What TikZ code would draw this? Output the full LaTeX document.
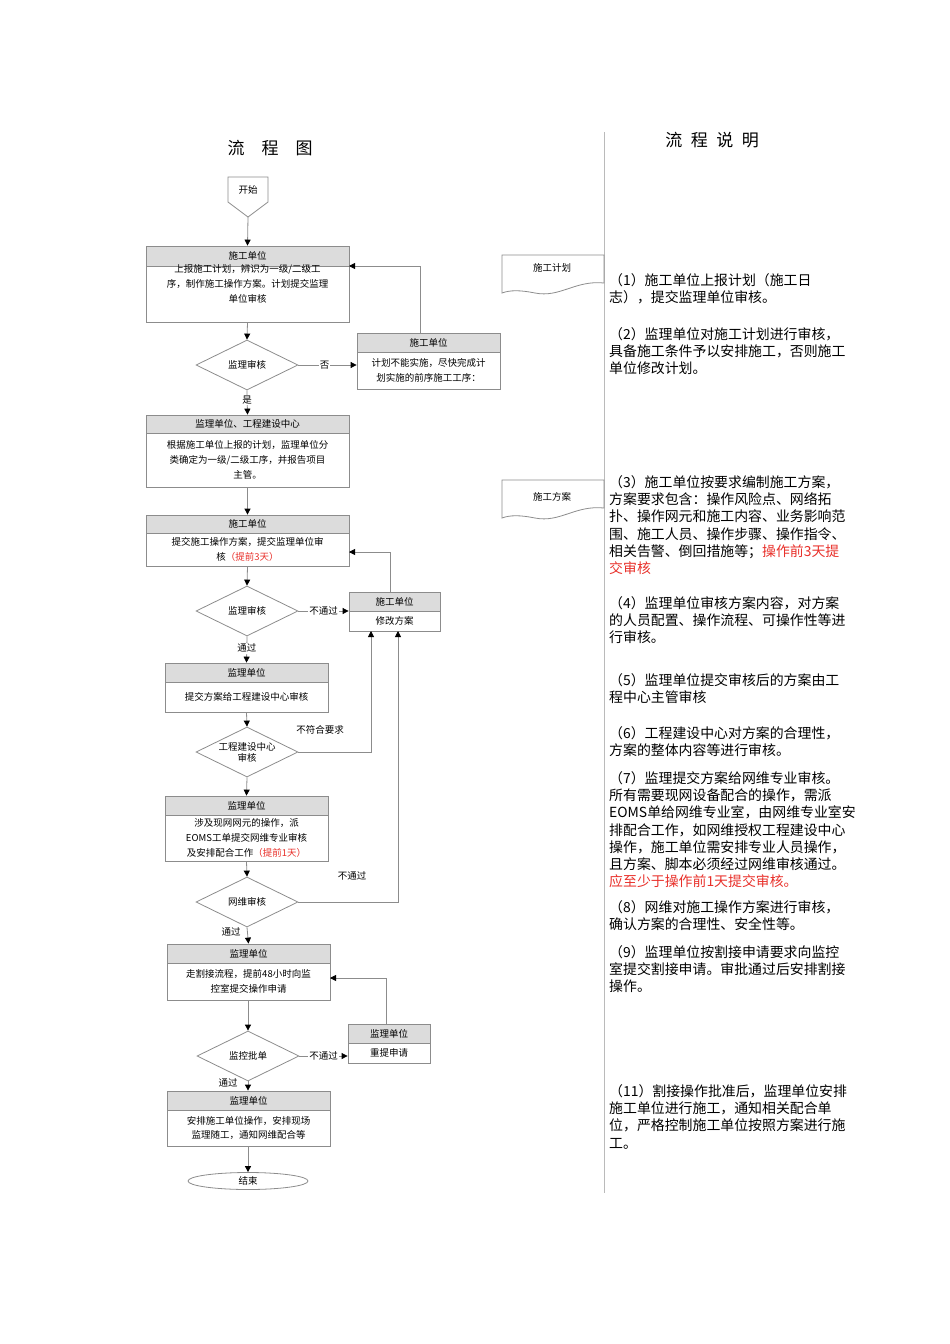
\documentclass[tikz,border=0pt]{standalone}
\usepackage{fontspec}
\setmainfont{Noto Sans CJK SC}
\usetikzlibrary{shapes.geometric,arrows.meta}
\definecolor{lnc}{HTML}{8C8C8C}
\definecolor{hdrc}{HTML}{DCDCDC}
\definecolor{redt}{HTML}{E8302A}
\tikzset{
 ln/.style={draw=lnc,line width=0.8pt},
 arr/.style={ln,-{Triangle[length=6pt,width=6pt,color=black]}},
 lab/.style={font=\fontsize{9.5}{10}\selectfont,fill=white,inner sep=1pt},
 dia/.style={diamond,ln,inner sep=0pt,minimum width=102pt,minimum height=50pt},
 diat/.style={font=\fontsize{9.5}{11}\selectfont,align=center,inner sep=0pt},
 desc/.style={anchor=north west,align=left,inner sep=0pt,font=\fontsize{13.9}{17.3}\selectfont}
}
\newcommand{\flowbox}[8]{%
 \node[ln,minimum width={#4pt-#2pt},minimum height={#5pt-#3pt},inner sep=0pt] (#1) at ({(#2+#4)/2},{(#3+#5)/2}) {};
 \fill[hdrc] (#2,#3) rectangle (#4,#6);
 \draw[ln] (#2,#3) rectangle (#4,#5);
 \draw[ln] (#2,#6) -- (#4,#6);
 \node[font=\fontsize{9.5}{10}\selectfont] (#1h) at ({(#2+#4)/2},{(#3+#6)/2}) {#7};
 \node[font=\fontsize{9.5}{14.8}\selectfont,align=center,inner sep=0pt] (#1t) at ({(#2+#4)/2},{(#6+#5)/2}) {#8};
}
\begin{document}
\begin{tikzpicture}[x=1pt,y=-1pt]
\useasboundingbox (0,0) rectangle (950,1344);
% titles
\node[font=\fontsize{17}{18}\selectfont] (t1) at (270,148) {流\quad 程\quad 图};
\node[font=\fontsize{17}{18}\selectfont] (t2) at (712,140) {流\enspace 程\enspace 说\enspace 明};
\draw[draw=lnc!60,line width=0.8pt] (604,132) -- (604,1193);
% start
\draw[ln] (228,177) -- (268,177) -- (268,202) -- (248,217) -- (228,202) -- cycle;
\node[font=\fontsize{9.5}{10}\selectfont] (start) at (248,190) {开始};
\coordinate (starts) at (248,217);
% boxes
\flowbox{b1}{146}{246}{349}{322}{266}{施工单位}{上报施工计划，辨识为一级/二级工\\序，制作施工操作方案。计划提交监理\\单位审核\\[6pt]}
\node[dia] (d1) at (247,365) {};\node[diat] (d1t) at (d1) {监理审核};
\flowbox{r1}{357}{333}{500}{389}{352}{施工单位}{计划不能实施，尽快完成计\\划实施的前序施工工序：}
\flowbox{b2}{146}{415}{349}{487}{433}{监理单位、工程建设中心}{根据施工单位上报的计划，监理单位分\\类确定为一级/二级工序，并报告项目\\主管。}
\flowbox{b3}{146}{515}{349}{566}{533}{施工单位}{提交施工操作方案，提交监理单位审\\核{\color{redt}（提前3天）}}
\node[dia] (d2) at (247,611) {};\node[diat] (d2t) at (d2) {监理审核};
\flowbox{r2}{349}{592}{440}{631}{611}{施工单位}{修改方案}
\flowbox{b4}{165}{663}{328}{712}{682}{监理单位}{提交方案给工程建设中心审核}
\node[dia] (d3) at (247,752) {};\node[diat] (d3t) at (d3) {工程建设中心\\审核};
\flowbox{b5}{165}{796}{328}{861}{815}{监理单位}{涉及现网网元的操作，派\\EOMS工单提交网维专业审核\\及安排配合工作{\color{redt}（提前1天）}}
\node[dia] (d4) at (247,902) {};\node[diat] (d4t) at (d4) {网维审核};
\flowbox{b6}{167}{944}{330}{1000}{963}{监理单位}{走割接流程，提前48小时向监\\控室提交操作申请}
\node[dia] (d5) at (248,1056) {};\node[diat] (d5t) at (d5) {监控批单};
\flowbox{r3}{348}{1024}{430}{1063}{1043}{监理单位}{重提申请}
\flowbox{b7}{167}{1091}{330}{1146}{1110}{监理单位}{安排施工单位操作，安排现场\\监理随工，通知网维配合等}
\node[ellipse,ln,minimum width=120pt,minimum height=17pt,inner sep=0pt,font=\fontsize{9.5}{10}\selectfont] (end) at (248,1181) {结束};
% connectors
\draw[arr] (starts) -- (b1.north);
\draw[arr] (b1.south) -- (d1.north);
\draw[arr] (d1.east) -- node[lab,pos=0.45]{否} (d1.east -| r1.west);
\coordinate (k1) at (349,266);
\draw[arr] (420,333) |- (k1);
\draw[arr] (d1.south) -- node[lab,pos=0.4]{是} (b2.north);
\draw[arr] (b2.south) -- (b3.north);
\draw[arr] (b3.south) -- (d2.north);
\draw[arr] (d2.east) -- node[lab,pos=0.5]{不通过} (d2.east -| r2.west);
\coordinate (k2) at (349,552);
\draw[arr] (390,592) |- (k2);
\draw[arr] (d2.south) -- node[lab,pos=0.45]{通过} (b4.north);
\draw[arr] (b4.south) -- (d3.north);
\coordinate (k3) at (371,631);
\draw[arr] (d3.east) -| (k3);
\node[font=\fontsize{9.5}{10}\selectfont] (l3) at (320,730) {不符合要求};
\draw[arr] (d3.south) -- (b5.north);
\draw[arr] (b5.south) -- (d4.north);
\coordinate (k4) at (398,631);
\draw[arr] (d4.east) -| (k4);
\node[font=\fontsize{9.5}{10}\selectfont] (l4) at (352,876) {不通过};
\draw[arr] (d4.south) -- (b6.north);
\node[font=\fontsize{9.5}{10}\selectfont] (l5) at (231,932) {通过};
\draw[arr] (b6.south -| d5.north) -- (d5.north);
\draw[arr] (d5.east) -- node[lab,pos=0.5]{不通过} (d5.east -| r3.west);
\coordinate (k6) at (330,978);
\draw[arr] (386,1024) |- (k6);
\draw[arr] (d5.south) -- (b7.north -| d5.south);
\node[font=\fontsize{9.5}{10}\selectfont] (l6) at (228,1083) {通过};
\draw[arr] (b7.south -| end.north) -- (end.north);
% documents
\draw[ln] (502,293) -- (502,255) -- (604,255) -- (604,283) .. controls (575,280) and (560,298) .. (535,293) .. controls (520,290) and (510,290) .. (502,293) -- cycle;
\node[font=\fontsize{9.5}{10}\selectfont] (doc1) at (552,268) {施工计划};
\draw[ln] (502,518) -- (502,480) -- (604,480) -- (604,508) .. controls (575,505) and (560,523) .. (535,518) .. controls (520,515) and (510,515) .. (502,518) -- cycle;
\node[font=\fontsize{9.5}{10}\selectfont] (doc2) at (552,497) {施工方案};
% descriptions
\node[desc] (p1) at (609,273) {（1）施工单位上报计划（施工日\\志），提交监理单位审核。};
\node[desc] (p2) at (609,327) {（2）监理单位对施工计划进行审核，\\具备施工条件予以安排施工，否则施工\\单位修改计划。};
\node[desc] (p3) at (609,475) {（3）施工单位按要求编制施工方案，\\方案要求包含：操作风险点、网络拓\\扑、操作网元和施工内容、业务影响范\\围、施工人员、操作步骤、操作指令、\\相关告警、倒回措施等；{\color{redt}操作前3天提}\\{\color{redt}交审核}};
\node[desc] (p4) at (609,596) {（4）监理单位审核方案内容，对方案\\的人员配置、操作流程、可操作性等进\\行审核。};
\node[desc] (p5) at (609,673) {（5）监理单位提交审核后的方案由工\\程中心主管审核};
\node[desc] (p6) at (609,726) {（6）工程建设中心对方案的合理性，\\方案的整体内容等进行审核。};
\node[desc] (p7) at (609,771) {（7）监理提交方案给网维专业审核。\\所有需要现网设备配合的操作，需派\\EOMS单给网维专业室，由网维专业室安\\排配合工作，如网维授权工程建设中心\\操作，施工单位需安排专业人员操作，\\且方案、脚本必须经过网维审核通过。\\{\color{redt}应至少于操作前1天提交审核。}};
\node[desc] (p8) at (609,900) {（8）网维对施工操作方案进行审核，\\确认方案的合理性、安全性等。};
\node[desc] (p9) at (609,945) {（9）监理单位按割接申请要求向监控\\室提交割接申请。审批通过后安排割接\\操作。};
\node[desc] (p11) at (609,1084) {（11）割接操作批准后，监理单位安排\\施工单位进行施工，通知相关配合单\\位，严格控制施工单位按照方案进行施\\工。};
\end{tikzpicture}
\end{document}
